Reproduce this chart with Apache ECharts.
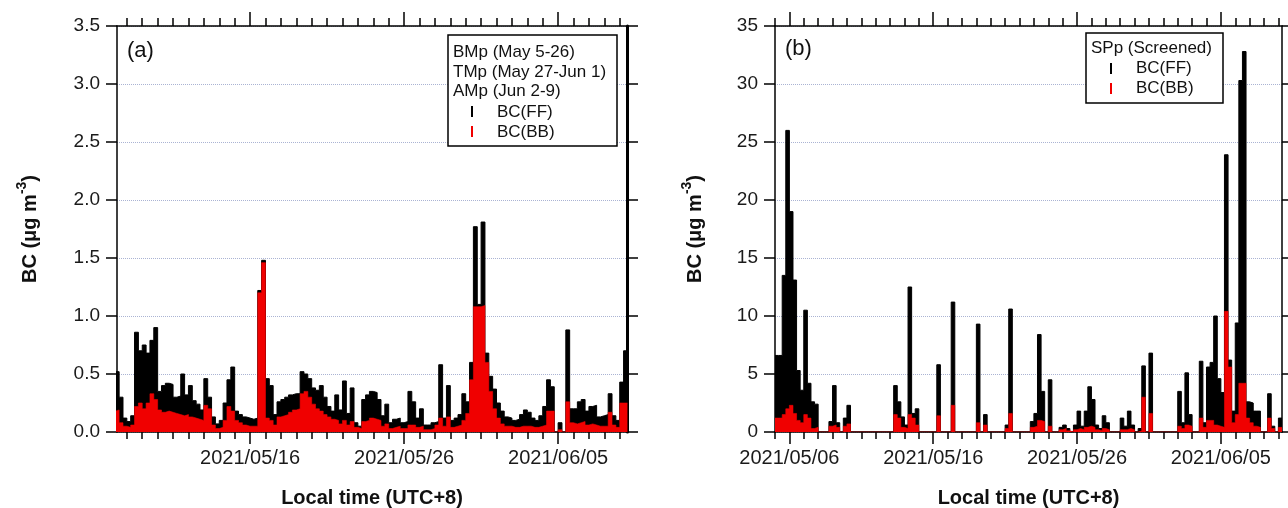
<!DOCTYPE html>
<html><head><meta charset="utf-8">
<script src="https://cdn.jsdelivr.net/npm/echarts@6/dist/echarts.min.js"></script>
<style>html,body{margin:0;padding:0;background:#fff}#c{width:1288px;height:508px}</style>
</head><body><div id="c"></div>
<script>
// ---------- data (6-hourly BC, µg m-3) ----------
const startA = Date.UTC(2021, 4, 7, 0, 0);   // first 6-h slot of panel (a)
const startB = Date.UTC(2021, 4, 5, 0, 0);   // first 6-h slot of panel (b)
const stepHours = 6;

// panel (a): total BC (FF+BB, black top) and BB part (red)
const totalA = [
0.50,0.52,0.30,0.12, 0.09,0.14,0.86,0.70, 0.75,0.68,0.79,0.90, 0.35,0.40,0.42,0.41,
0.30,0.31,0.50,0.32, 0.40,0.27,0.24,0.19, 0.46,0.30,0.13,0.07, 0.10,0.25,0.45,0.56,
0.18,0.15,0.13,0.12, 0.11,0.12,1.22,1.48, 0.46,0.40,0.15,0.26, 0.28,0.30,0.32,0.33,
0.33,0.52,0.50,0.46, 0.38,0.36,0.40,0.30, 0.22,0.18,0.32,0.19, 0.44,0.16,0.38,0.08,
0.05,0.28,0.32,0.35, 0.34,0.28,0.14,0.24, 0.08,0.11,0.12,0.08, 0.09,0.35,0.26,0.12,
0.20,0.06,0.06,0.08, 0.09,0.58,0.12,0.40, 0.10,0.12,0.15,0.33, 0.26,0.60,1.77,1.10,
1.81,0.68,0.48,0.37, 0.25,0.18,0.13,0.12, 0.10,0.11,0.15,0.19, 0.17,0.12,0.10,0.14,
0.22,0.45,0.39,0.00, 0.08,0.00,0.88,0.20, 0.20,0.26,0.28,0.18, 0.22,0.23,0.13,0.14,
0.15,0.33,0.14,0.10, 0.43,0.70
];
const bbA = [
0.18,0.19,0.08,0.05, 0.04,0.06,0.22,0.25, 0.20,0.25,0.33,0.28, 0.19,0.17,0.18,0.17,
0.16,0.15,0.14,0.15, 0.13,0.12,0.11,0.10, 0.23,0.20,0.06,0.03, 0.04,0.10,0.22,0.18,
0.10,0.08,0.06,0.05, 0.05,0.05,1.20,1.46, 0.12,0.10,0.06,0.13, 0.14,0.15,0.17,0.19,
0.20,0.33,0.35,0.30, 0.24,0.20,0.18,0.15, 0.13,0.11,0.10,0.07, 0.10,0.06,0.09,0.04,
0.03,0.09,0.10,0.12, 0.11,0.10,0.05,0.07, 0.03,0.04,0.05,0.03, 0.03,0.06,0.06,0.04,
0.05,0.02,0.02,0.03, 0.06,0.12,0.05,0.13, 0.04,0.05,0.06,0.10, 0.16,0.45,1.08,1.08,
1.09,0.60,0.35,0.20, 0.12,0.07,0.05,0.05, 0.04,0.04,0.05,0.05, 0.05,0.04,0.04,0.05,
0.06,0.18,0.18,0.00, 0.02,0.00,0.26,0.08, 0.07,0.08,0.09,0.06, 0.07,0.06,0.05,0.05,
0.05,0.17,0.06,0.04, 0.25,0.25
];

// panel (b): screened period
const totalB = [
6.6,6.6,13.5,26.0, 19.0,13.1,5.3,3.6, 10.5,4.2,2.6,2.4, 0,0,0,0.9,
4.0,0.8,0,1.2, 2.3,0,0,0, 0,0,0,0, 0,0,0,0,
0,4.0,2.6,1.3, 0.6,12.5,1.6,2.0, 0,0,0,0, 0,5.8,0,0,
0,11.2,0,0, 0,0,0,0, 9.3,0,1.5,0, 0,0,0,0,
0.6,10.6,0,0, 0,0,0,0.9, 1.6,8.4,3.5,0, 4.5,0,0,0.4,
0.6,0.3,0,0.6, 1.8,0.5,1.8,3.9, 2.8,0.6,0.3,1.4, 0.8,0,0,0,
1.2,0.5,1.8,0.6, 0,0.3,5.7,0, 6.8,0,0,0, 0,0,0,0,
3.5,0.8,5.1,1.5, 0,0,6.1,0.8, 5.6,6.0,10.0,4.6, 3.4,23.9,6.2,1.8,
9.4,30.3,32.8,2.6, 2.5,1.8,1.8,0, 0,3.3,0.5,0, 1.2
];
const bbB = [
1.2,1.2,1.5,2.0, 2.3,1.6,1.0,0.8, 1.5,1.2,0.3,0.4, 0,0,0,0.5,
0.6,0.4,0,0.5, 0.7,0,0,0, 0,0,0,0, 0,0,0,0,
0,1.5,1.2,0.4, 0.3,1.5,1.2,0.6, 0,0,0,0, 0,1.4,0,0,
0,2.3,0,0, 0,0,0,0, 0.8,0,0.6,0, 0,0,0,0,
0.3,1.6,0,0, 0,0,0,0.4, 0.5,1.0,0.9,0, 0.5,0,0,0.2,
0.3,0.1,0,0.2, 0.3,0.2,0.4,0.5, 0.4,0.2,0.1,0.3, 0.2,0,0,0,
0.2,0.2,0.3,0.2, 0,0.1,3.0,0, 1.6,0,0,0, 0,0,0,0,
0.5,0.3,0.6,0.5, 0,0,1.2,0.4, 1.0,1.0,0.6,0.5, 0.4,10.4,5.6,0.8,
1.5,4.2,4.2,1.2, 0.8,0.5,0.4,0, 0,1.2,0.3,0, 0.4
];

const majorTickDates = ['2021-05-06','2021-05-16','2021-05-26','2021-06-05'];
const yTicksA = [0, 3.5, 0.5];   // min, max, step
const yTicksB = [0, 35, 5];
const seriesNames = ['BC(FF)', 'BC(BB)'];
const legendHeadA = ['BMp (May 5-26)', 'TMp (May 27-Jun 1)', 'AMp (Jun 2-9)'];
const legendHeadB = ['SPp (Screened)'];
const panelTags = ['(a)', '(b)'];
const xTitle = 'Local time (UTC+8)';

// ---------- helpers ----------
const H = 3600 * 1000, DAY = 24 * H;
const FONT = '"Liberation Sans", Arial, sans-serif';
const rangeA = [Date.UTC(2021,4,7,8,40), Date.UTC(2021,5,9,11,20)];
const rangeB = [Date.UTC(2021,4,5,0,0), Date.UTC(2021,5,9,6,0)];
const majorVals = majorTickDates.map(s => { const p = s.split('-').map(Number); return Date.UTC(p[0], p[1]-1, p[2]); });

function toPairs(start, arr) {
  const out = arr.map((v, i) => [start + i * stepHours * H, v]);
  out.push([start + arr.length * stepHours * H, arr[arr.length - 1]]);
  return out;
}
function dayTicks(min, max) {
  const out = []; let t = Math.ceil(min / DAY) * DAY;
  for (; t <= max; t += DAY) out.push(t);
  return out;
}
const pad = n => (n < 10 ? '0' : '') + n;
const fmtDate = v => { const d = new Date(v); return d.getUTCFullYear() + '/' + pad(d.getUTCMonth()+1) + '/' + pad(d.getUTCDate()); };

const black = { color: '#000', width: 1.5 };
function xAxesFor(gridIndex, range) {
  const days = dayTicks(range[0], range[1]);
  const majors = majorVals.filter(v => v >= range[0] && v <= range[1]);
  const base = { type: 'value', gridIndex, min: range[0], max: range[1], offset: 0, scale: true,
    splitLine: { show: false }, axisPointer: { show: false } };
  return [
    Object.assign({}, base, { position: 'bottom',
      axisLine: { show: true, lineStyle: black },
      axisTick: { show: true, customValues: days, length: 7, lineStyle: black },
      axisLabel: { show: true, customValues: majors, formatter: fmtDate, color: '#1a1a1a', fontSize: 20, fontFamily: FONT, margin: 16 },
      name: xTitle, nameLocation: 'middle', nameGap: 56,
      nameTextStyle: { fontWeight: 'bold', fontSize: 20, color: '#111', fontFamily: FONT } }),
    Object.assign({}, base, { position: 'bottom',
      axisLine: { show: false },
      axisTick: { show: true, customValues: majors, length: 12, lineStyle: black },
      axisLabel: { show: false } }),
    Object.assign({}, base, { position: 'top',
      axisLine: { show: true, lineStyle: black },
      axisTick: { show: true, customValues: days, length: 8, lineStyle: black },
      axisLabel: { show: false } }),
    Object.assign({}, base, { position: 'top',
      axisLine: { show: false },
      axisTick: { show: true, customValues: majors, length: 14, lineStyle: black },
      axisLabel: { show: false } })
  ];
}
const yName = '{a|BC (μg m}{s|-3}{a|)}';
const yNameStyle = { rich: {
  a: { fontSize: 20, fontWeight: 'bold', fontFamily: FONT, color: '#111', lineHeight: 30 },
  s: { fontSize: 14, fontWeight: 'bold', fontFamily: FONT, color: '#111', verticalAlign: 'top', lineHeight: 14 } } };
function yAxesFor(gridIndex, ticks, decimals, nameGap, rightWidth) {
  const base = { type: 'value', gridIndex, min: ticks[0], max: ticks[1], interval: ticks[2] };
  return [
    Object.assign({}, base, { position: 'left',
      axisLine: { show: true, lineStyle: black },
      axisTick: { show: true, length: 11, lineStyle: black },
      axisLabel: { formatter: v => v.toFixed(decimals), fontSize: 19, fontFamily: FONT, color: '#1a1a1a', margin: 17 },
      splitLine: { show: true, lineStyle: { type: 'dotted', color: '#aab3d3', width: 1 } },
      name: yName, nameLocation: 'middle', nameGap, nameRotate: 90, nameTextStyle: yNameStyle }),
    Object.assign({}, base, { position: 'right',
      axisLine: { show: true, lineStyle: { color: '#000', width: rightWidth } },
      axisTick: { show: true, length: 11, lineStyle: black },
      axisLabel: { show: false }, splitLine: { show: false } })
  ];
}
function seriesFor(xi, yi, start, total, bb) {
  return [
    { name: seriesNames[0], type: 'line', xAxisIndex: xi, yAxisIndex: yi, step: 'end', symbol: 'none',
      data: toPairs(start, total), lineStyle: { color: '#000', width: 1 }, areaStyle: { color: '#000', opacity: 1 }, z: 2 },
    { name: seriesNames[1], type: 'line', xAxisIndex: xi, yAxisIndex: yi, step: 'end', symbol: 'none',
      data: toPairs(start, bb), lineStyle: { color: '#f00000', width: 0.6 }, areaStyle: { color: '#f00000', opacity: 1 }, z: 3 }
  ];
}
function txt(x, y, s, size, color, weight) {
  return { type: 'text', x, y, z: 101, style: { text: s, fontSize: size || 17, fontFamily: FONT, fill: color || '#111', fontWeight: weight || 'normal', verticalAlign: 'middle', align: 'left' } };
}
function bar(x, y, color) {
  return { type: 'rect', z: 101, shape: { x, y, width: 2, height: 11 }, style: { fill: color } };
}
const graphics = [
  { type: 'rect', z: 100, shape: { x: 448, y: 35, width: 169, height: 111 }, style: { fill: '#fff', stroke: '#000', lineWidth: 1.5 } },
  txt(453, 52, legendHeadA[0]), txt(453, 72, legendHeadA[1]), txt(453, 91, legendHeadA[2]),
  bar(471, 106, '#000'), txt(497, 112, seriesNames[0]),
  bar(471, 126, '#f00000'), txt(497, 132, seriesNames[1]),
  { type: 'rect', z: 100, shape: { x: 1086, y: 33, width: 137, height: 70 }, style: { fill: '#fff', stroke: '#000', lineWidth: 1.5 } },
  txt(1091, 48, legendHeadB[0]),
  bar(1110, 63, '#000'), txt(1136, 68, seriesNames[0]),
  bar(1110, 83, '#f00000'), txt(1136, 88, seriesNames[1]),
  txt(127, 51, panelTags[0], 22), txt(785, 49, panelTags[1], 22)
];

const chart = echarts.init(document.getElementById('c'), null, { renderer: 'canvas' });
chart.setOption({
  animation: false, backgroundColor: '#fff',
  grid: [
    { left: 117, right: 1288 - 627, top: 26, bottom: 508 - 432, containLabel: false, outerBoundsMode: 'none' },
    { left: 775, right: 1288 - 1282, top: 26, bottom: 508 - 432, containLabel: false, outerBoundsMode: 'none' }
  ],
  xAxis: xAxesFor(0, rangeA).concat(xAxesFor(1, rangeB)),
  yAxis: yAxesFor(0, yTicksA, 1, 72, 3).concat(yAxesFor(1, yTicksB, 0, 65, 1.5)),
  series: seriesFor(0, 0, startA, totalA, bbA).concat(seriesFor(4, 2, startB, totalB, bbB)),
  graphic: graphics
});
</script></body></html>
